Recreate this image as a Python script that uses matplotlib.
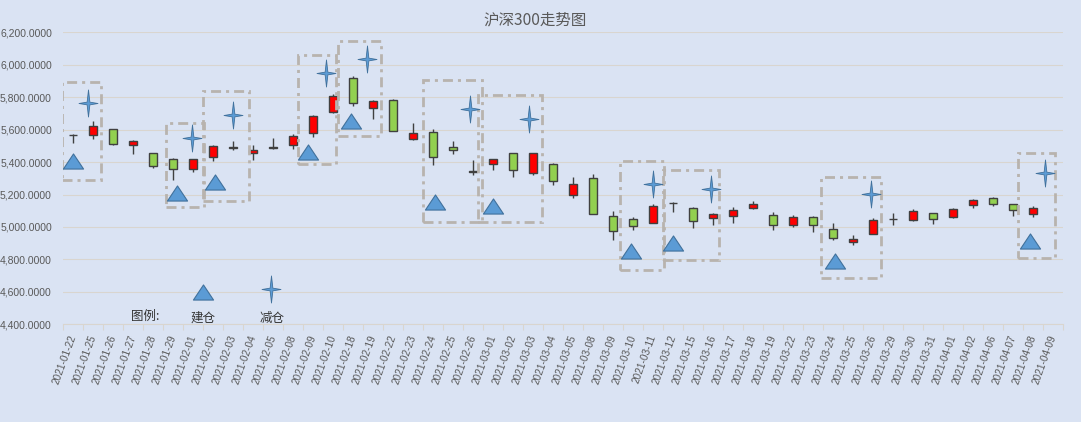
import numpy as np
import matplotlib
matplotlib.use("Agg")
import matplotlib.pyplot as plt
from matplotlib.path import Path
from matplotlib.patches import Rectangle

plt.rcParams['font.family'] = ['Liberation Sans', 'Noto Sans CJK SC', 'DejaVu Sans']

# ---- data ----
dates = ['2021-01-22', '2021-01-25', '2021-01-26', '2021-01-27', '2021-01-28', '2021-01-29',
         '2021-02-01', '2021-02-02', '2021-02-03', '2021-02-04', '2021-02-05', '2021-02-08',
         '2021-02-09', '2021-02-10', '2021-02-18', '2021-02-19', '2021-02-22', '2021-02-23',
         '2021-02-24', '2021-02-25', '2021-02-26', '2021-03-01', '2021-03-02', '2021-03-03',
         '2021-03-04', '2021-03-05', '2021-03-08', '2021-03-09', '2021-03-10', '2021-03-11',
         '2021-03-12', '2021-03-15', '2021-03-16', '2021-03-17', '2021-03-18', '2021-03-19',
         '2021-03-22', '2021-03-23', '2021-03-24', '2021-03-25', '2021-03-26', '2021-03-29',
         '2021-03-30', '2021-03-31', '2021-04-01', '2021-04-02', '2021-04-06', '2021-04-07',
         '2021-04-08', '2021-04-09']
nan = np.nan
opens = [5566, 5564, 5601, 5508, 5453, 5416, 5355, 5429, 5496, 5453, 5496, 5508,
         5582, 5711, 5920, 5736, 5785, 5545, 5588, 5496, 5342, 5390, 5453, 5330,
         5386, 5195, 5300, 5067, 5048, 5024, 5149, 5116, 5054, 5067, 5116, 5073,
         5011, 5060, 4987, 4907, 4956, 5050, 5042, 5085, 5060, 5134, 5177, 5140,
         5079, nan]
highs = [5574, 5656, 5604, 5535, 5459, 5427, 5422, 5508, 5533, 5508, 5551, 5576,
         5688, 5821, 5932, 5785, 5787, 5643, 5603, 5527, 5414, 5422, 5455, 5455,
         5392, 5306, 5324, 5097, 5060, 5140, 5152, 5122, 5085, 5122, 5159, 5091,
         5073, 5067, 5024, 4948, 5054, 5085, 5109, 5089, 5116, 5173, 5185, 5142,
         5128, nan]
lows = [5515, 5545, 5508, 5447, 5363, 5287, 5341, 5408, 5472, 5412, 5480, 5478,
        5555, 5703, 5748, 5668, 5592, 5539, 5380, 5447, 5318, 5349, 5306, 5318,
        5257, 5177, 5079, 4919, 4981, 5022, 5091, 4993, 5011, 5024, 5110, 4981,
        4999, 4968, 4917, 4888, 4954, 5011, 5036, 5017, 5058, 5116, 5128, 5067,
        5060, nan]
closes = [5568, 5625, 5513, 5527, 5377, 5355, 5416, 5502, 5484, 5472, 5484, 5562,
          5686, 5809, 5766, 5779, 5594, 5582, 5433, 5472, 5340, 5416, 5349, 5453,
          5281, 5263, 5079, 4974, 5005, 5128, 5150, 5034, 5079, 5103, 5140, 5011,
          5060, 5011, 4929, 4925, 5042, 5052, 5097, 5048, 5109, 5165, 5140, 5103,
          5116, nan]

# buy (建仓) and sell (减仓) signals, x in category units
buy_x = [0, 5.2, 7.1, 11.75, 13.9, 18.1, 21.0, 27.9, 30.0, 38.1, 47.85]
buy_y = [5407, 5208, 5278, 5463, 5651, 5155, 5127, 4853, 4901, 4790, 4912]
sell_x = [0.75, 5.95, 8.0, 12.65, 14.7, 19.85, 22.8, 29.0, 31.9, 39.9, 48.6]
sell_y = [5764, 5549, 5688, 5947, 6034, 5725, 5664, 5263, 5236, 5201, 5335]

# highlighted ranges: x0, x1, low, high
box_x0 = [-0.56, 4.63, 6.48, 11.26, 13.26, 17.5, 20.27, 27.35, 29.52, 37.4, 47.23]
box_x1 = [1.4, 6.55, 8.81, 13.15, 15.4, 20.46, 23.46, 29.56, 32.28, 40.41, 49.1]
box_lo = [5290, 5121, 5160, 5390, 5561, 5028, 5033, 4735, 4797, 4686, 4809]
box_hi = [5892, 5643, 5838, 6058, 6148, 5906, 5814, 5407, 5351, 5310, 5458]

# ---- styling ----
BG = '#DAE3F3'
GRID = '#D9D5CF'
TXT = '#595959'
UP = '#FF0000'
DOWN = '#92D050'
EDGE = '#404040'
MARK = '#5B9BD5'
MARK_EDGE = '#41719C'
BOX = '#B8B3AE'

star = Path([(0, 1), (0.1, 0.1), (0.7, 0), (0.1, -0.1), (0, -1), (-0.1, -0.1),
             (-0.7, 0), (-0.1, 0.1), (0, 1)], closed=True)
tri = Path([(0, 0.75), (-1, -0.75), (1, -0.75), (0, 0.75)], closed=True)

fig = plt.figure(figsize=(10.81, 4.22), dpi=100, facecolor=BG)
ax = fig.add_axes([63 / 1081, 1 - 324.3 / 422, 1000 / 1081, 292 / 422])
ax.set_facecolor(BG)

o = np.array(opens, dtype=float)
h = np.array(highs, dtype=float)
l = np.array(lows, dtype=float)
c = np.array(closes, dtype=float)
x = np.arange(len(dates))
ok = ~np.isnan(o)

ax.vlines(x[ok], l[ok], h[ok], color=EDGE, linewidth=1.0, zorder=3)
body_lo = np.minimum(o, c)
body_h = np.maximum(np.abs(c - o), 1.5)
colors = [UP if cc >= oo else DOWN for oo, cc in zip(o, c)]
ax.bar(x[ok], body_h[ok], bottom=body_lo[ok], width=0.42,
       color=[colors[i] for i in x[ok]], edgecolor=EDGE, linewidth=1.0, zorder=4)

for x0, x1, lo, hi in zip(box_x0, box_x1, box_lo, box_hi):
    ax.add_patch(Rectangle((x0, lo), x1 - x0, hi - lo, fill=False, edgecolor=BOX,
                           linewidth=2.0, linestyle=(0, (3.6, 1.8, 1.1, 1.8)), zorder=5))

ax.plot(buy_x, buy_y, linestyle='none', marker=tri, markersize=14.5,
        markerfacecolor=MARK, markeredgecolor=MARK_EDGE, markeredgewidth=0.8, zorder=6)
ax.plot(sell_x, sell_y, linestyle='none', marker=star, markersize=19.5,
        markerfacecolor=MARK, markeredgecolor=MARK_EDGE, markeredgewidth=0.6, zorder=6)

# hand-made legend
ax.plot([6.5], [4600], linestyle='none', marker=tri, markersize=14.5,
        markerfacecolor=MARK, markeredgecolor=MARK_EDGE, markeredgewidth=0.8, zorder=6)
ax.plot([9.9], [4616], linestyle='none', marker=star, markersize=19.5,
        markerfacecolor=MARK, markeredgecolor=MARK_EDGE, markeredgewidth=0.6, zorder=6)
cjk = ['Noto Sans CJK SC', 'DejaVu Sans']
ax.text(3.6, 4451, '图例:', ha='center', va='center', fontsize=9, color='#333333', family=cjk)
ax.text(6.52, 4440, '建仓', ha='center', va='center', fontsize=9, color='#333333', family=cjk)
ax.text(9.93, 4437, '减仓', ha='center', va='center', fontsize=9, color='#333333', family=cjk)

ax.set_xlim(-0.5, len(dates) - 0.5)
ax.set_ylim(4400, 6200)
ax.set_yticks(np.arange(4400, 6201, 200))
ax.set_yticklabels([f'{v:,.4f}' for v in np.arange(4400, 6201, 200)])
ax.set_xticks(x)
ax.set_xticklabels(dates, rotation=70, ha='right', va='center', rotation_mode='anchor')
ax.set_xticks(np.arange(-0.5, len(dates)), minor=True)
ax.tick_params(axis='x', which='major', length=0, pad=8, labelsize=7.2, labelcolor=TXT)
ax.tick_params(axis='x', which='minor', length=4, color=GRID, width=0.8)
ax.tick_params(axis='y', length=0, pad=8, labelsize=7.5, labelcolor=TXT)
ax.grid(axis='y', color=GRID, linewidth=0.8, zorder=0)
ax.set_axisbelow(True)
for side in ['top', 'right', 'left']:
    ax.spines[side].set_visible(False)
ax.spines['bottom'].set_color(GRID)
ax.spines['bottom'].set_linewidth(0.8)

fig.text(535 / 1081, 1 - 19.5 / 422, '沪深300走势图', ha='center', va='center',
         fontsize=11.2, color=TXT, family=cjk)

fig.savefig('out.png', dpi=100, facecolor=BG)
